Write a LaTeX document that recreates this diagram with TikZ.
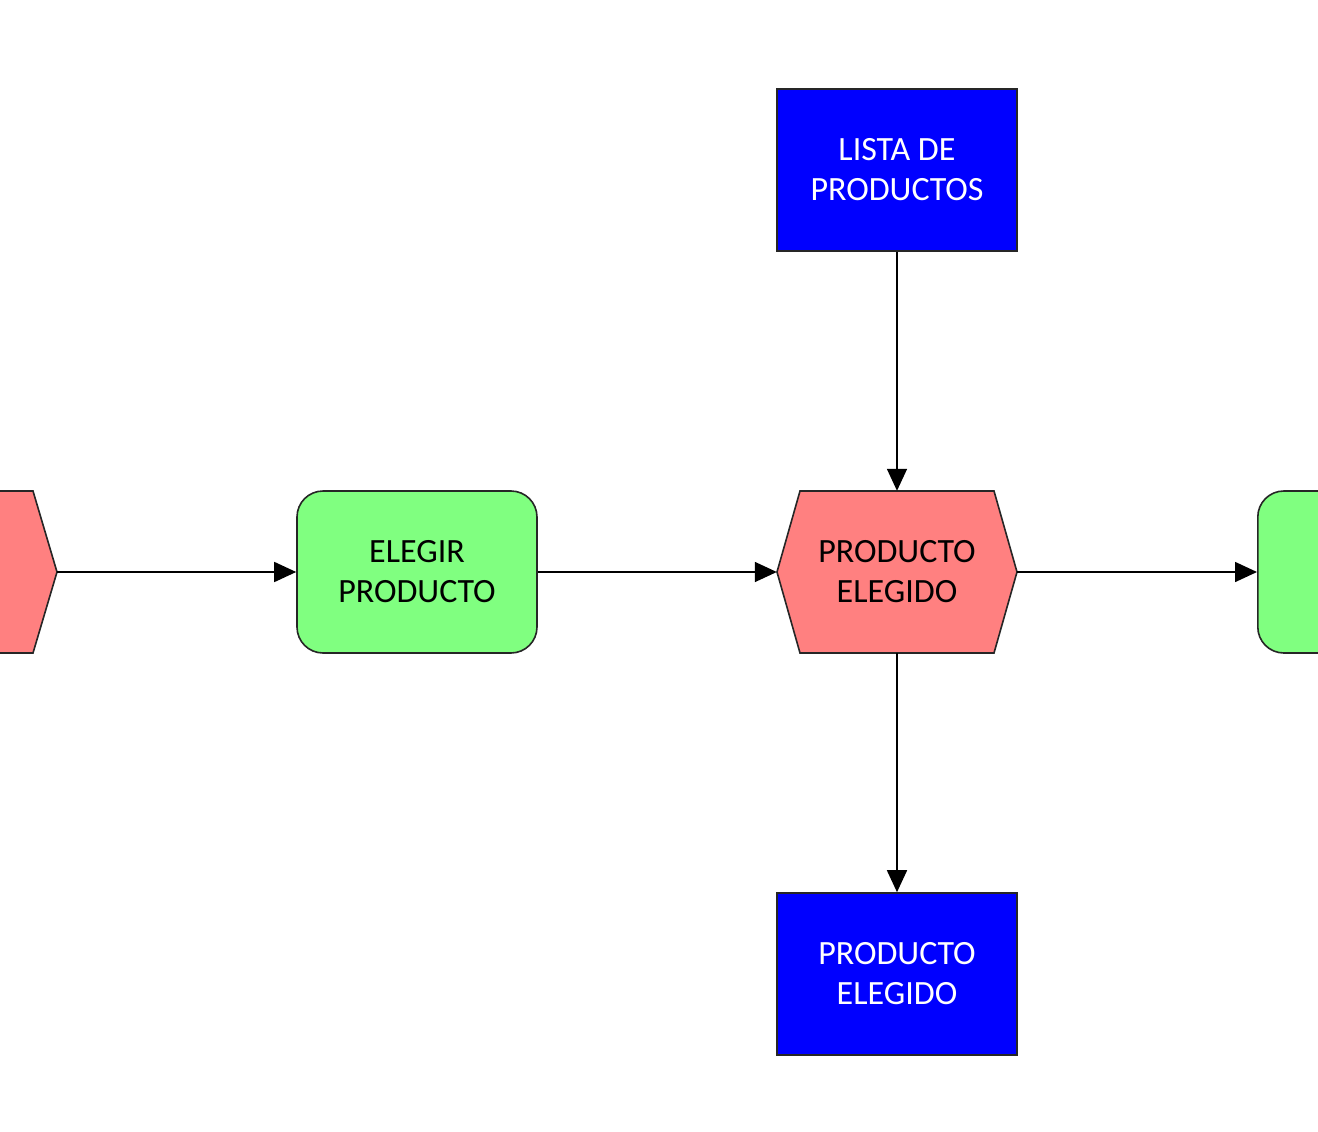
\documentclass[tikz,border=0pt]{standalone}
\usepackage{fontspec}
\setmainfont{Carlito}
\usetikzlibrary{arrows.meta}
\definecolor{evred}{HTML}{FF8080}
\definecolor{fngreen}{HTML}{80FF80}
\definecolor{infoblue}{HTML}{0000FF}
\definecolor{edge}{HTML}{262626}
\begin{document}
\begin{tikzpicture}[x=1pt,y=-1pt,
  txt/.style={font=\fontsize{34}{40}\selectfont, align=center},
  bluebox/.style={draw=edge, line width=1.6pt, fill=infoblue, minimum width=240pt, minimum height=162pt, inner sep=0pt, txt, text=white},
  greenbox/.style={draw=edge, line width=1.6pt, fill=fngreen, rounded corners=26pt, minimum width=240pt, minimum height=162pt, inner sep=0pt, txt, text=black},
  hexshape/.style={draw=edge, line width=1.6pt, fill=evred},
  conn/.style={line width=1.6pt, draw=black, -{Triangle[length=22pt,width=20pt]}}
]
\useasboundingbox (0,0) rectangle (1318,1132);
\clip (0,0) rectangle (1318,1132);
\fill[white] (0,0) rectangle (1318,1132);

% left event (cut off)
\draw[hexshape] (-183,572) -- (-161,491) -- (33,491) -- (57,572) -- (33,653) -- (-161,653) -- cycle;
\coordinate (ev0) at (57,572);

% elegir producto
\node[greenbox] (fn1) at (417,572) {ELEGIR\\PRODUCTO};

% center event
\draw[hexshape] (777,572) -- (800,491) -- (994,491) -- (1017,572) -- (994,653) -- (800,653) -- cycle;
\node[txt, minimum width=240pt, minimum height=162pt, inner sep=0pt] (ev1) at (897,572) {PRODUCTO\\ELEGIDO};

% right function (cut off)
\node[greenbox, anchor=west] (fn2) at (1257,572) {\phantom{X}};

% info boxes
\node[bluebox] (lista) at (897,170) {LISTA DE\\PRODUCTOS};
\node[bluebox] (out) at (897,974) {PRODUCTO\\ELEGIDO};

\draw[conn] (ev0) -- (fn1.west);
\draw[conn] (fn1.east) -- (ev1.west);
\draw[conn] (ev1.east) -- (fn2.west);
\draw[conn] (lista.south) -- (ev1.north);
\draw[conn] (ev1.south) -- (out.north);
\end{tikzpicture}
\end{document}
